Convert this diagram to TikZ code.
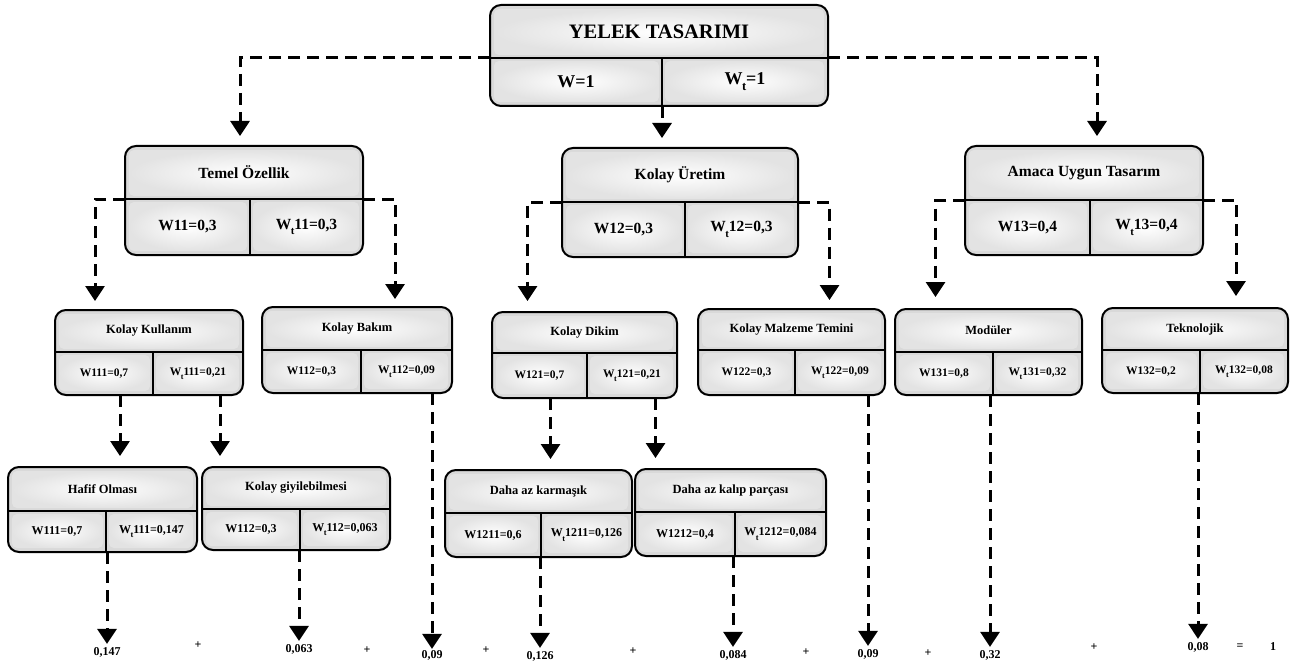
\documentclass[tikz,border=0pt]{standalone}
\usepackage{fontspec}
\setmainfont{Liberation Serif}
\usetikzlibrary{arrows.meta,calc}
\newcommand{\Wt}{W\kern-0.5pt\raisebox{-0.75ex}{\scalebox{0.7}{t}}}
\tikzset{
  wframe/.style={draw=black, line width=2pt, rounded corners=11pt, inner sep=0pt, outer sep=0pt, fill=gray!30},
  cellshade/.style={inner color=white, outer color=gray!22, rounded corners=5pt},
  wline/.style={draw=black, line width=1.6pt},
  dl/.style={line width=3pt, dash pattern=on 12pt off 7pt, -{Triangle[width=19pt,length=15pt]}},
  t1/.style={font=\fontsize{20.5}{22}\selectfont\bfseries, inner sep=0pt},
  c1/.style={font=\fontsize{18}{20}\selectfont\bfseries, inner sep=0pt},
  t2/.style={font=\fontsize{15.5}{17}\selectfont\bfseries, inner sep=0pt},
  c2/.style={font=\fontsize{15.5}{17}\selectfont\bfseries, inner sep=0pt},
  t3/.style={font=\fontsize{12.5}{14}\selectfont\bfseries, inner sep=0pt},
  c3/.style={font=\fontsize{11.5}{13}\selectfont\bfseries, inner sep=0pt},
  t4/.style={font=\fontsize{12.5}{14}\selectfont\bfseries, inner sep=0pt},
  c4/.style={font=\fontsize{12}{14}\selectfont\bfseries, inner sep=0pt},
  val/.style={font=\fontsize{12}{13}\selectfont\bfseries, inner sep=1pt},
  op/.style={font=\fontsize{12}{13}\selectfont\bfseries, inner sep=1pt},
}
% name, x1, y1, x2, y2, ydiv, xdiv
\newcommand{\wbox}[7]{%
  \node[wframe, minimum width={(#4-#2)*1pt}, minimum height={(#5-#3)*1pt}] (#1) at ({(#2+#4)/2},{(#3+#5)/2}) {};
  \coordinate (#1-d) at (#7,#6);
  \shade[cellshade] ({#2+4},{#3+4}) rectangle ({#4-4},{#6-3});
  \shade[cellshade] ({#2+4},{#6+3}) rectangle ({#7-3},{#5-4});
  \shade[cellshade] ({#7+3},{#6+3}) rectangle ({#4-4},{#5-4});
  \draw[wline] (#2,#6) -- (#4,#6);
  \draw[wline] (#7,#6) -- (#7,#5);
}
% name, title, left, right, level
\newcommand{\wtext}[5]{%
  \node[t#5] (#1-t) at ($(#1.north)!0.5!(#1.north |- #1-d)$) {#2};
  \node[c#5] (#1-l) at ($(#1.west |- #1-d)!0.5!(#1-d |- #1.south)$) {#3};
  \node[c#5] (#1-r) at ($(#1-d)!0.5!(#1.south east)$) {#4};
}
\begin{document}
\begin{tikzpicture}[x=1pt,y=-1pt]
\useasboundingbox[fill=white] (0,0) rectangle (1293,666);

% level 1
\wbox{top}{490}{5}{828}{106}{58}{662}
\wtext{top}{YELEK TASARIMI}{W=1}{\Wt=1}{1}

% level 2
\wbox{temel}{125}{146}{363}{255}{199}{250}
\wtext{temel}{Temel Özellik}{W11=0,3}{\Wt11=0,3}{2}
\wbox{uretim}{562}{148}{798}{257}{202}{685}
\wtext{uretim}{Kolay Üretim}{W12=0,3}{\Wt12=0,3}{2}
\wbox{amaca}{965}{146}{1203}{255}{200}{1090}
\wtext{amaca}{Amaca Uygun Tasarım}{W13=0,4}{\Wt13=0,4}{2}

% level 3
\wbox{kk}{55}{310}{243}{395}{352}{153}
\wtext{kk}{Kolay Kullanım}{W111=0,7}{\Wt111=0,21}{3}
\wbox{kb}{262}{307}{452}{393}{350}{361}
\wtext{kb}{Kolay Bakım}{W112=0,3}{\Wt112=0,09}{3}
\wbox{kd}{492}{312}{677}{398}{353}{587}
\wtext{kd}{Kolay Dikim}{W121=0,7}{\Wt121=0,21}{3}
\wbox{km}{698}{309}{885}{395}{350}{795}
\wtext{km}{Kolay Malzeme Temini}{W122=0,3}{\Wt122=0,09}{3}
\wbox{mod}{895}{309}{1082}{395}{352}{993}
\wtext{mod}{Modüler}{W131=0,8}{\Wt131=0,32}{3}
\wbox{tek}{1102}{308}{1288}{393}{350}{1200}
\wtext{tek}{Teknolojik}{W132=0,2}{\Wt132=0,08}{3}

% level 4
\wbox{hafif}{8}{467}{197}{552}{511}{106}
\wtext{hafif}{Hafif Olması}{W111=0,7}{\Wt111=0,147}{4}
\wbox{giy}{202}{467}{390}{550}{509}{300}
\wtext{giy}{Kolay giyilebilmesi}{W112=0,3}{\Wt112=0,063}{4}
\wbox{dak}{445}{470}{632}{557}{513}{541}
\wtext{dak}{Daha az karmaşık}{W1211=0,6}{\Wt1211=0,126}{4}
\wbox{dap}{635}{469}{826}{556}{512}{735}
\wtext{dap}{Daha az kalıp parçası}{W1212=0,4}{\Wt1212=0,084}{4}

% bottom values
\node[val] (v1) at (107,652) {0,147};
\node[val] (v2) at (299,649) {0,063};
\node[val] (v3) at (432,655) {0,09};
\node[val] (v4) at (540,656) {0,126};
\node[val] (v5) at (733,655) {0,084};
\node[val] (v6) at (868,654) {0,09};
\node[val] (v7) at (990,655) {0,32};
\node[val] (v8) at (1198,647) {0,08};
\node[op] (p1) at (198,645) {+};
\node[op] (p2) at (367,650) {+};
\node[op] (p3) at (486,650) {+};
\node[op] (p4) at (633,651) {+};
\node[op] (p5) at (806,652) {+};
\node[op] (p6) at (928,653) {+};
\node[op] (p7) at (1094,647) {+};
\node[op] (eq) at (1240,647) {=};
\node[op] (one) at (1273,647) {1};

% connectors level 1 -> 2
\draw[dl, shorten >=10pt] (top.west |- top-d) -| ([xshift=-4pt]temel.north);
\draw[dl, shorten >=10pt] (top-d |- top.south) -- (top-d |- uretim.north);
\draw[dl, shorten >=10pt] (top.east |- top-d) -| ([xshift=13pt]amaca.north);

% level 2 -> 3
\draw[dl, shorten >=9pt] (temel.west |- temel-d) -| ([xshift=-54pt]kk.north);
\draw[dl, shorten >=8pt] (temel.east |- temel-d) -| ([xshift=38pt]kb.north);
\draw[dl, shorten >=11pt] (uretim.west |- uretim-d) -| ([xshift=-57pt]kd.north);
\draw[dl, shorten >=9pt] (uretim.east |- uretim-d) -| ([xshift=38pt]km.north);
\draw[dl, shorten >=12pt] (amaca.west |- amaca-d) -| ([xshift=-53pt]mod.north);
\draw[dl, shorten >=12pt] (amaca.east |- amaca-d) -| ([xshift=41pt]tek.north);

% level 3 -> 4
\draw[dl, shorten >=11pt] ([xshift=-29pt]kk.south) -- ([xshift=-29pt]kk.south |- hafif.north);
\draw[dl, shorten >=11pt] ([xshift=71pt]kk.south) -- ([xshift=71pt]kk.south |- giy.north);
\draw[dl, shorten >=11pt] ([xshift=-34pt]kd.south) -- ([xshift=-34pt]kd.south |- dak.north);
\draw[dl, shorten >=11pt] ([xshift=71pt]kd.south) -- ([xshift=71pt]kd.south |- dap.north);

% to values
\draw[dl, shorten >=2pt] (v1 |- hafif.south) -- (v1.north);
\draw[dl, shorten >=2pt] (v2 |- giy.south) -- (v2.north);
\draw[dl, shorten >=0pt] (v3 |- kb.south) -- (v3.north);
\draw[dl, shorten >=2pt] (v4 |- dak.south) -- (v4.north);
\draw[dl, shorten >=2pt] (v5 |- dap.south) -- (v5.north);
\draw[dl, shorten >=2pt] (v6 |- km.south) -- (v6.north);
\draw[dl, shorten >=2pt] (v7 |- mod.south) -- (v7.north);
\draw[dl, shorten >=2pt] (v8 |- tek.south) -- (v8.north);
\end{tikzpicture}
\end{document}
